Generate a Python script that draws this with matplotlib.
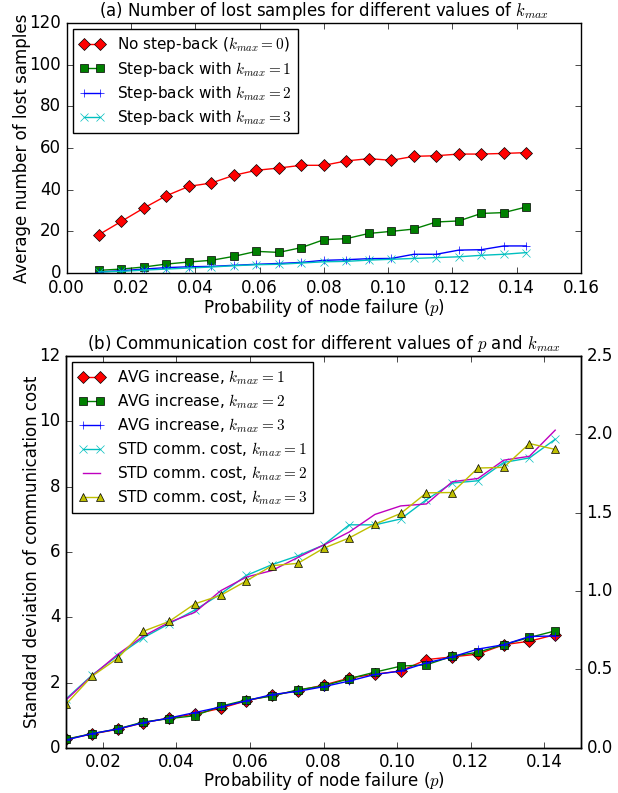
import matplotlib
matplotlib.use('Agg')
import matplotlib.pyplot as plt

plt.style.use('classic')
plt.rcParams['mathtext.fontset'] = 'cm'
plt.rcParams['font.family'] = ['DejaVu Sans']
plt.rcParams['font.size'] = 12

# Probability of node failure
p = [0.010, 0.017, 0.024, 0.031, 0.038, 0.045, 0.052, 0.059, 0.066, 0.073,
     0.080, 0.087, 0.094, 0.101, 0.108, 0.115, 0.122, 0.129, 0.136, 0.143]

# (a) average number of lost samples
lost_k0 = [18.4, 24.8, 31.2, 37.1, 41.6, 43.2, 46.9, 49.3, 50.4, 51.7,
           51.7, 53.8, 54.9, 54.1, 56.0, 56.3, 57.1, 57.1, 57.4, 57.8]
lost_k1 = [1.3, 1.9, 2.9, 4.3, 5.3, 6.1, 8.0, 10.4, 9.9, 12.2,
           16.0, 16.5, 19.0, 20.0, 21.1, 24.5, 25.0, 28.6, 29.0, 31.7]
lost_k2 = [0.5, 1.1, 1.9, 2.6, 3.0, 3.2, 3.7, 4.2, 4.6, 5.1,
           6.1, 6.4, 6.9, 7.0, 9.0, 9.0, 11.0, 11.2, 13.0, 13.0]
lost_k3 = [0.5, 0.8, 1.4, 1.9, 2.4, 2.9, 3.5, 4.0, 4.2, 4.8,
           5.4, 5.6, 6.2, 6.6, 7.0, 7.4, 7.8, 8.5, 9.0, 9.8]

# (b) average increase of communication cost (right axis)
avg_k1 = [0.054, 0.088, 0.118, 0.160, 0.190, 0.215, 0.252, 0.300, 0.335, 0.365,
          0.400, 0.445, 0.470, 0.490, 0.563, 0.580, 0.598, 0.658, 0.680, 0.722]
avg_k2 = [0.055, 0.090, 0.120, 0.165, 0.186, 0.205, 0.265, 0.305, 0.330, 0.370,
          0.395, 0.441, 0.483, 0.521, 0.530, 0.584, 0.610, 0.658, 0.704, 0.746]
avg_k3 = [0.050, 0.090, 0.120, 0.160, 0.190, 0.225, 0.260, 0.300, 0.340, 0.360,
          0.390, 0.426, 0.468, 0.490, 0.542, 0.580, 0.630, 0.658, 0.710, 0.714]

# (b) standard deviation of communication cost (left axis)
std_k1 = [1.50, 2.22, 2.82, 3.37, 3.80, 4.22, 4.71, 5.28, 5.61, 5.88,
          6.21, 6.83, 6.83, 7.01, 7.60, 8.11, 8.18, 8.74, 8.88, 9.45]
std_k2 = [1.47, 2.20, 2.86, 3.42, 3.84, 4.15, 4.81, 5.23, 5.43, 5.83,
          6.21, 6.61, 7.15, 7.41, 7.47, 8.15, 8.25, 8.81, 8.93, 9.73]
std_k3 = [1.34, 2.19, 2.74, 3.57, 3.87, 4.41, 4.67, 5.11, 5.58, 5.65,
          6.11, 6.43, 6.85, 7.18, 7.81, 7.82, 8.57, 8.59, 9.32, 9.14]

leg_kw = dict(loc='upper left', numpoints=2, fontsize=11,
              labelspacing=0.35, handlelength=1.7, borderaxespad=0.4,
              borderpad=0.4)

fig = plt.figure(figsize=(6.18, 7.93), dpi=100)
fig.patch.set_facecolor('white')

# (a)
ax1 = fig.add_axes([0.108, 0.6557, 0.832, 0.3153])
ax1.plot(p, lost_k0, 'r-D', label=r'No step-back ($k_{max}=0$)')
ax1.plot(p, lost_k1, 'g-s', label=r'Step-back with $k_{max}=1$')
ax1.plot(p, lost_k2, 'b-+', label=r'Step-back with $k_{max}=2$')
ax1.plot(p, lost_k3, 'c-x', label=r'Step-back with $k_{max}=3$')
ax1.set_xlim(0, 0.16)
ax1.set_ylim(0, 120)
ax1.set_xticks([0.00, 0.02, 0.04, 0.06, 0.08, 0.10, 0.12, 0.14, 0.16])
ax1.set_title(r'(a) Number of lost samples for different values of $k_{max}$',
              fontsize=12)
ax1.set_xlabel(r'Probability of node failure ($p$)', labelpad=0)
ax1.set_ylabel('Average number of lost samples', labelpad=-1)
ax1.legend(**leg_kw)

# (b)
ax2 = fig.add_axes([0.107, 0.057, 0.833, 0.494])
ax3 = ax2.twinx()
h1, = ax3.plot(p, avg_k1, 'r-D', label=r'AVG increase, $k_{max}=1$')
h2, = ax3.plot(p, avg_k2, 'g-s', label=r'AVG increase, $k_{max}=2$')
h3, = ax3.plot(p, avg_k3, 'b-+', label=r'AVG increase, $k_{max}=3$')
h4, = ax2.plot(p, std_k1, 'c-x', label=r'STD comm. cost, $k_{max}=1$')
h5, = ax2.plot(p, std_k2, 'm-', label=r'STD comm. cost, $k_{max}=2$')
h6, = ax2.plot(p, std_k3, 'y-^', label=r'STD comm. cost, $k_{max}=3$')
ax2.set_xlim(0.01, 0.15)
ax2.set_ylim(0, 12)
ax3.set_ylim(0, 2.5)
ax2.set_xticks([0.02, 0.04, 0.06, 0.08, 0.10, 0.12, 0.14])
ax2.set_title(r'(b) Communication cost for different values of $p$ and $k_{max}$',
              fontsize=12)
ax2.set_xlabel(r'Probability of node failure ($p$)', labelpad=-1)
ax2.set_ylabel('Standard deviation of communication cost', labelpad=-1)
ax3.set_ylabel('Average increase of communication cost')
handles = [h1, h2, h3, h4, h5, h6]
ax3.legend(handles, [h.get_label() for h in handles], **leg_kw)

fig.savefig('out.png', dpi=100, facecolor='white')
